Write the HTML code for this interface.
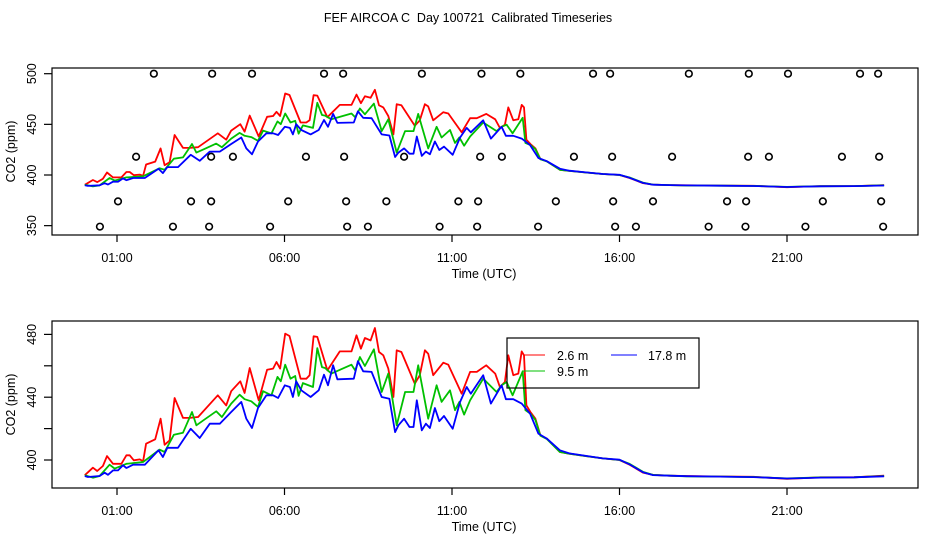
<!DOCTYPE html>
<html><head><meta charset="utf-8"><style>
html,body{margin:0;padding:0;background:#fff;}
svg{display:block;font-family:"Liberation Sans",sans-serif;}
text{white-space:pre;}
</style></head><body>
<svg id="chart" width="936" height="540" viewBox="0 0 936 540">
<defs>
<clipPath id="clipTop"><rect x="52" y="68" width="866" height="167"/></clipPath>
<clipPath id="clipBot"><rect x="52" y="321" width="866" height="167"/></clipPath>
</defs>
<text x="468" y="22" text-anchor="middle" font-size="12.5">FEF AIRCOA C  Day 100721  Calibrated Timeseries</text>
<g id="top"></g>
<g id="bot"></g>
</svg>
<script>
const redT=[0.04,0.28,0.41,0.58,0.70,0.88,1.13,1.28,1.38,1.50,1.68,1.78,1.87,2.14,2.30,2.42,2.57,2.72,2.97,3.17,3.42,4.01,4.26,4.41,4.68,4.81,4.96,5.23,5.48,5.66,5.76,5.87,6.02,6.15,6.48,6.65,6.75,6.87,6.98,7.28,7.65,8.0,8.15,8.28,8.40,8.57,8.70,8.82,8.95,9.10,9.25,9.35,9.49,9.89,10.04,10.19,10.29,10.44,10.74,10.89,11.29,11.54,11.74,12.02,12.29,12.43,12.58,12.68,12.83,12.98,13.08,13.15,13.22,13.34,13.49,13.64,13.83,14.22,14.5,15.0,15.5,16.0,16.3,16.7,17.0,17.5,18.0,19.0,20.0,21.0,21.5,22.0,23.0,23.9];
const redV=[390.3,395.1,393.0,396.2,402.5,397.6,397.6,403.0,403.0,399.8,400.4,399.2,410.4,413.2,426.3,409.7,412.5,439.5,426.8,426.8,427.4,441.2,434.8,443.8,450.1,442.7,458.6,438.0,457.5,458.2,462.4,458.2,480.5,479.0,451.8,451.8,454.0,478.8,478.4,457.1,469.2,469.2,479.4,470.9,477.7,476.2,484.1,468.8,466.7,458.2,440.1,469.9,468.8,448.6,454.0,469.9,467.7,454.0,462.0,460.7,442.2,456.1,456.1,460.3,455.0,446.5,449.7,466.7,454.0,455.0,469.2,466.7,434.8,430.6,426.3,415.7,413.6,405.1,404.0,402.5,401.0,400.0,397.0,392.0,390.5,390.0,389.8,389.5,389.3,388.0,388.5,389.0,389.0,390.0];
const greenT=[0.04,0.28,0.48,0.78,0.93,1.28,1.78,2.07,2.27,2.42,2.70,2.97,3.24,3.37,3.62,3.96,4.13,4.41,4.66,4.81,5.01,5.21,5.36,5.61,5.79,5.89,6.02,6.18,6.32,6.42,6.55,6.85,6.98,7.12,7.21,7.40,8.0,8.11,8.25,8.40,8.67,8.90,9.10,9.35,9.60,9.85,9.99,10.29,10.54,10.69,10.94,11.09,11.22,11.36,11.54,11.93,12.33,12.48,12.63,12.81,13.11,13.19,13.34,13.49,13.64,13.83,14.22,14.5,15.0,15.5,16.0,16.3,16.7,17.0,17.5,18.0,19.0,20.0,21.0,21.5,22.0,23.0,23.9];
const greenV=[390.3,388.7,389.8,397.0,394.5,397.6,398.7,403.4,406.6,405.1,416.1,417.4,430.6,422.1,425.9,431.0,427.4,435.9,441.6,438.7,437.4,433.8,443.8,441.2,452.9,450.1,460.7,451.8,453.5,440.8,449.0,446.5,471.3,459.2,458.6,455.0,460.7,457.1,465.6,459.9,470.5,443.3,455.0,422.1,443.3,443.3,460.3,426.3,447.6,437.0,444.4,431.7,437.0,428.9,438.0,451.8,443.3,447.6,449.7,441.2,456.5,431.7,429.5,425.5,415.5,413.4,405.1,404.0,402.5,401.0,400.0,397.5,392.5,390.5,390.0,389.6,389.4,389.2,388.3,388.6,388.9,389.0,389.8];
const blueT=[0.04,0.13,0.48,0.63,0.73,0.88,1.03,1.18,1.28,1.48,1.83,2.24,2.37,2.50,2.82,3.20,3.47,3.77,4.07,4.41,4.71,4.86,5.03,5.21,5.46,5.66,5.81,6.01,6.16,6.25,6.35,6.50,6.78,7.02,7.18,7.30,7.45,7.58,8.07,8.19,8.35,8.60,8.90,9.13,9.30,9.40,9.57,9.73,9.85,9.95,10.10,10.22,10.34,10.49,10.62,10.76,11.02,11.24,11.44,11.56,11.93,12.16,12.48,12.61,12.83,13.08,13.33,13.58,13.83,14.22,14.5,15.0,15.5,16.0,16.3,16.7,17.0,17.5,18.0,19.0,20.0,21.0,21.5,22.0,23.0,23.9];
const blueV=[389.8,389.2,389.8,391.9,390.6,393.4,393.4,396.6,394.9,397.0,397.0,406.2,401.9,407.8,407.8,419.9,414.0,423.1,423.1,430.6,437.0,426.3,420.4,433.1,441.2,441.2,439.5,447.6,446.5,440.1,450.1,444.4,440.1,444.4,454.3,447.6,460.3,451.4,451.8,462.9,456.5,456.1,440.1,439.0,417.8,422.1,426.3,421.0,421.0,438.0,418.9,423.1,420.4,433.1,424.7,428.0,419.9,436.9,446.5,442.2,454.0,435.9,447.6,438.7,438.7,435.9,429.5,416.8,413.6,406.2,404.2,402.6,401.0,400.2,397.2,392.2,390.4,390.0,389.7,389.4,389.1,388.2,388.5,388.8,389.0,389.6];
const flagT=[2.10,3.84,5.03,7.18,7.75,10.10,11.88,13.04,15.21,15.72,18.07,19.86,21.03,23.18,23.72,
1.57,3.81,4.46,6.64,7.78,9.57,11.84,12.49,14.64,15.78,17.57,19.84,20.46,22.64,23.75,
1.03,3.21,3.81,6.11,7.84,9.04,11.19,11.78,14.10,15.81,17.00,19.21,19.78,22.07,23.81,
0.49,2.67,3.75,5.57,7.87,8.49,10.63,11.75,13.57,15.87,16.49,18.66,19.76,21.55,23.87];
const flagV=[500,500,500,500,500,500,500,500,500,500,500,500,500,500,500,
418,418,418,418,418,418,418,418,418,418,418,418,418,418,418,
374,374,374,374,374,374,374,374,374,374,374,374,374,374,374,
349,349,349,349,349,349,349,349,349,349,349,349,349,349,349];
const xTicks=[1,6,11,16,21];
const xTickLabels=["01:00","06:00","11:00","16:00","21:00"];
const topYTicks=[350,400,450,500];
const botYTicks=[400,420,440,460,480];
const botYLabels=["400","","440","","480"];

const NS="http://www.w3.org/2000/svg";
function xs(t){return 83.5+t*33.5;}
function yTop(v){return 175-(v-400)*1.013;}
function yBot(v){return 460-(v-400)*1.57;}
function mk(tag,attrs,parent){const e=document.createElementNS(NS,tag);for(const k in attrs)e.setAttribute(k,attrs[k]);parent.appendChild(e);return e;}

function panel(g,y0,y1,yf,yticks,ylabels,clipId,withFlags){
  const series=[[redT,redV,"#ff0000","series-2-6m"],[greenT,greenV,"#00c000","series-9-5m"],[blueT,blueV,"#0000ff","series-17-8m"]];
  const lg=mk("g",{"clip-path":"url(#"+clipId+")"},g);
  series.forEach(s=>{
    let d="";
    s[0].forEach((t,i)=>{d+=(i?"L":"M")+xs(t).toFixed(1)+","+yf(s[1][i]).toFixed(1);});
    const p=mk("path",{d:d,fill:"none",stroke:s[2],"stroke-width":"1.8","stroke-linejoin":"round"},lg);
    
    
  });
  if(withFlags){
    flagT.forEach((t,i)=>{
      const c=mk("circle",{cx:xs(t),cy:yf(flagV[i]),r:3.3,fill:"none",stroke:"#000","stroke-width":"1.6"},lg);
      
      
    });
  }
  const box=mk("rect",{x:52,y:y0,width:866,height:y1-y0,fill:"none",stroke:"#000","stroke-width":"1.2"},g);
  
  
  xTicks.forEach((h,i)=>{
    const x=xs(h);
    const tk=mk("line",{x1:x,y1:y1,x2:x,y2:y1+7,stroke:"#000","stroke-width":"1.2"},g);
    
    
    const tl=mk("text",{x:x,y:y1+27,"text-anchor":"middle","font-size":"12.5"},g);
    tl.textContent=xTickLabels[i];
    
    
  });
  const xt=mk("text",{x:484,y:y1+43,"text-anchor":"middle","font-size":"12.5"},g);
  xt.textContent="Time (UTC)";
  
  
  yticks.forEach((v,i)=>{
    const y=yf(v);
    const tk=mk("line",{x1:44,y1:y,x2:52,y2:y,stroke:"#000","stroke-width":"1.2"},g);
    
    
    if(ylabels[i]){
      const tl=mk("text",{x:0,y:0,"text-anchor":"middle","font-size":"12.5",transform:"translate(36,"+y+") rotate(-90)"},g);
      tl.textContent=ylabels[i];
      
      
    }
  });
  const yt=mk("text",{x:0,y:0,"text-anchor":"middle","font-size":"12.5",transform:"translate(15,"+((y0+y1)/2)+") rotate(-90)"},g);
  yt.textContent="CO2 (ppm)";
  
  
}
panel(document.getElementById("top"),68,235,yTop,topYTicks,topYTicks.map(String),"clipTop",true);
panel(document.getElementById("bot"),321,488,yBot,botYTicks,botYLabels,"clipBot",false);

const bot=document.getElementById("bot");
const lgd=mk("g",{},bot);


mk("rect",{x:507,y:338,width:192,height:50,fill:"none",stroke:"#000","stroke-width":"1.2"},lgd);
const entries=[["2.6 m","#ff0000",523,545,355,557],["9.5 m","#00c000",523,545,371,557],["17.8 m","#0000ff",611,637,355,648]];
entries.forEach(e=>{
  const g=mk("g",{},lgd);
  
  
  mk("line",{x1:e[2],y1:e[4],x2:e[3],y2:e[4],stroke:e[1],"stroke-width":"1"},g);
  const t=mk("text",{x:e[5],y:e[4]+5,"font-size":"12.5"},g);
  t.textContent=e[0];
});
</script>
</body></html>
